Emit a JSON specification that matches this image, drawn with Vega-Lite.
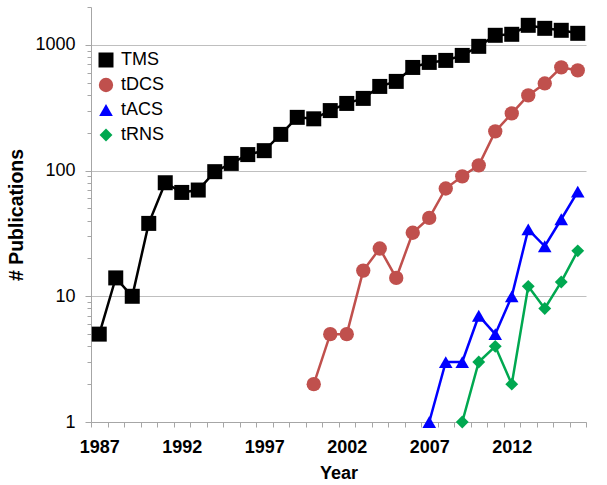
{
  "$schema": "https://vega.github.io/schema/vega-lite/v6.json",
  "width": 495,
  "height": 415,
  "autosize": {"type": "none"},
  "padding": {"left": 91, "top": 7, "right": 21, "bottom": 63},
  "background": "white",
  "config": {"view": {"stroke": null}, "font": "Liberation Sans"},
  "data": {"values": [
    {"year": 1987, "series": "TMS", "count": 5},
    {"year": 1988, "series": "TMS", "count": 14},
    {"year": 1989, "series": "TMS", "count": 10},
    {"year": 1990, "series": "TMS", "count": 38},
    {"year": 1991, "series": "TMS", "count": 80},
    {"year": 1992, "series": "TMS", "count": 67},
    {"year": 1993, "series": "TMS", "count": 70},
    {"year": 1994, "series": "TMS", "count": 98},
    {"year": 1995, "series": "TMS", "count": 114},
    {"year": 1996, "series": "TMS", "count": 134},
    {"year": 1997, "series": "TMS", "count": 144},
    {"year": 1998, "series": "TMS", "count": 194},
    {"year": 1999, "series": "TMS", "count": 265},
    {"year": 2000, "series": "TMS", "count": 258},
    {"year": 2001, "series": "TMS", "count": 300},
    {"year": 2002, "series": "TMS", "count": 342},
    {"year": 2003, "series": "TMS", "count": 375},
    {"year": 2004, "series": "TMS", "count": 467},
    {"year": 2005, "series": "TMS", "count": 512},
    {"year": 2006, "series": "TMS", "count": 661},
    {"year": 2007, "series": "TMS", "count": 725},
    {"year": 2008, "series": "TMS", "count": 752},
    {"year": 2009, "series": "TMS", "count": 824},
    {"year": 2010, "series": "TMS", "count": 973},
    {"year": 2011, "series": "TMS", "count": 1191},
    {"year": 2012, "series": "TMS", "count": 1213},
    {"year": 2013, "series": "TMS", "count": 1430},
    {"year": 2014, "series": "TMS", "count": 1353},
    {"year": 2015, "series": "TMS", "count": 1305},
    {"year": 2016, "series": "TMS", "count": 1235},
    {"year": 2000, "series": "tDCS", "count": 2},
    {"year": 2001, "series": "tDCS", "count": 5},
    {"year": 2002, "series": "tDCS", "count": 5},
    {"year": 2003, "series": "tDCS", "count": 16},
    {"year": 2004, "series": "tDCS", "count": 24},
    {"year": 2005, "series": "tDCS", "count": 14},
    {"year": 2006, "series": "tDCS", "count": 32},
    {"year": 2007, "series": "tDCS", "count": 42},
    {"year": 2008, "series": "tDCS", "count": 72},
    {"year": 2009, "series": "tDCS", "count": 90},
    {"year": 2010, "series": "tDCS", "count": 110},
    {"year": 2011, "series": "tDCS", "count": 205},
    {"year": 2012, "series": "tDCS", "count": 285},
    {"year": 2013, "series": "tDCS", "count": 396},
    {"year": 2014, "series": "tDCS", "count": 493},
    {"year": 2015, "series": "tDCS", "count": 662},
    {"year": 2016, "series": "tDCS", "count": 626},
    {"year": 2007, "series": "tACS", "count": 1},
    {"year": 2008, "series": "tACS", "count": 3},
    {"year": 2009, "series": "tACS", "count": 3},
    {"year": 2010, "series": "tACS", "count": 7},
    {"year": 2011, "series": "tACS", "count": 5},
    {"year": 2012, "series": "tACS", "count": 10},
    {"year": 2013, "series": "tACS", "count": 34},
    {"year": 2014, "series": "tACS", "count": 25},
    {"year": 2015, "series": "tACS", "count": 41},
    {"year": 2016, "series": "tACS", "count": 68},
    {"year": 2009, "series": "tRNS", "count": 1},
    {"year": 2010, "series": "tRNS", "count": 3},
    {"year": 2011, "series": "tRNS", "count": 4},
    {"year": 2012, "series": "tRNS", "count": 2},
    {"year": 2013, "series": "tRNS", "count": 12},
    {"year": 2014, "series": "tRNS", "count": 8},
    {"year": 2015, "series": "tRNS", "count": 13},
    {"year": 2016, "series": "tRNS", "count": 23}
  ]},
  "encoding": {
    "x": {
      "field": "year", "type": "quantitative",
      "scale": {"domain": [1986.5, 2016.5], "nice": false, "zero": false},
      "axis": {
        "title": "Year",
        "titleFont": "Liberation Sans", "titleFontSize": 18, "titleFontWeight": "bold", "titleColor": "#000000",
        "titlePadding": 8,
        "values": [1986.5,1987.5,1988.5,1989.5,1990.5,1991.5,1992.5,1993.5,1994.5,1995.5,1996.5,1997.5,1998.5,1999.5,2000.5,2001.5,2002.5,2003.5,2004.5,2005.5,2006.5,2007.5,2008.5,2009.5,2010.5,2011.5,2012.5,2013.5,2014.5,2015.5,2016.5],
        "labelExpr": "((round(datum.value + 0.5) - 1987) % 5 == 0 && datum.value < 2016) ? toString(round(datum.value + 0.5)) : ''",
        "labelOffset": 8.25,
        "labelOverlap": false, "labelFlush": false, "labelBound": false,
        "labelFont": "Liberation Sans", "labelFontSize": 18, "labelFontWeight": "bold", "labelColor": "#000000",
        "labelPadding": 11,
        "tickSize": 5, "tickColor": "#A6A6A6", "domainColor": "#A6A6A6", "grid": false
      }
    },
    "y": {
      "field": "count", "type": "quantitative",
      "scale": {"type": "log", "domain": [1, 2000], "nice": false},
      "axis": {
        "title": "# Publications",
        "titleFont": "Liberation Sans", "titleFontSize": 19.5, "titleFontWeight": "bold", "titleColor": "#000000",
        "titlePadding": 8,
        "values": [1,2,3,4,5,6,7,8,9,10,20,30,40,50,60,70,80,90,100,200,300,400,500,600,700,800,900,1000,2000],
        "labelExpr": "(datum.value == 1 || datum.value == 10 || datum.value == 100 || datum.value == 1000) ? toString(datum.value) : ''",
        "labelOverlap": false, "labelFlush": false,
        "labelFont": "Liberation Sans", "labelFontSize": 18, "labelColor": "#000000",
        "labelPadding": 10,
        "tickSize": {"condition": {"test": "datum.value == 1 || datum.value == 10 || datum.value == 100 || datum.value == 1000", "value": 6}, "value": 4},
        "tickColor": "#A6A6A6", "domainColor": "#A6A6A6",
        "grid": true,
        "gridColor": "#BFBFBF",
        "gridOpacity": {"condition": {"test": "datum.value == 1 || datum.value == 10 || datum.value == 100 || datum.value == 1000", "value": 1}, "value": 0}
      }
    },
    "color": {
      "field": "series", "type": "nominal",
      "scale": {"domain": ["TMS", "tDCS", "tACS", "tRNS"], "range": ["#000000", "#C0504D", "#0000FF", "#00A850"]},
      "legend": {
        "title": null, "orient": "none", "legendX": 6, "legendY": 44,
        "labelFont": "Liberation Sans", "labelFontSize": 18, "labelColor": "#000000",
        "symbolSize": 110, "symbolStrokeWidth": 0, "rowPadding": 7, "labelOffset": 6
      }
    }
  },
  "layer": [
    {
      "mark": {"type": "line", "strokeWidth": 2.5},
      "encoding": {"detail": {"field": "series"}}
    },
    {
      "mark": {"type": "point", "filled": true, "opacity": 1},
      "encoding": {
        "shape": {
          "field": "series", "type": "nominal",
          "scale": {"domain": ["TMS", "tDCS", "tACS", "tRNS"], "range": ["square", "circle", "triangle-up", "diamond"]}
        },
        "size": {
          "field": "series", "type": "nominal",
          "scale": {"domain": ["TMS", "tDCS", "tACS", "tRNS"], "range": [225, 165, 140, 115]},
          "legend": null
        }
      }
    }
  ]
}
